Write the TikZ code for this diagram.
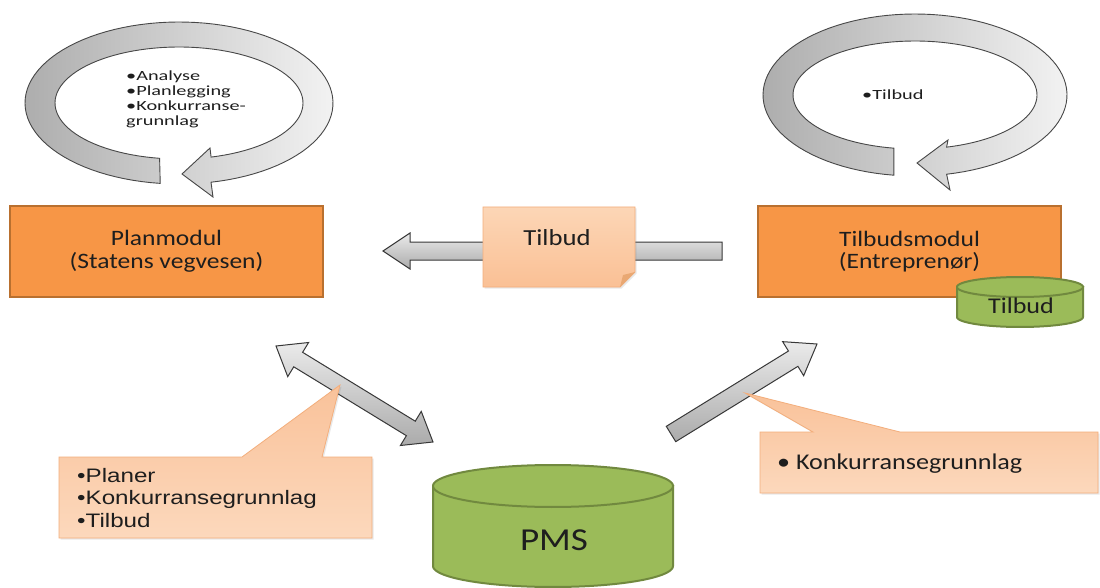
\documentclass[tikz,border=0pt]{standalone}
\usepackage{fontspec}
\usetikzlibrary{calc,shadows}

\newfontfamily\calfont[FakeStretch=1.16]{Carlito}
\newfontfamily\ringfont[FakeStretch=1.45]{Carlito}
\newfontfamily\arifont[FakeStretch=1.24]{Liberation Sans}

\definecolor{modfill}{HTML}{F79646}
\definecolor{modline}{HTML}{B9702F}
\definecolor{cylfill}{HTML}{9BBB59}
\definecolor{cylline}{HTML}{71893F}
\definecolor{calltop}{HTML}{F9C29A}
\definecolor{callbot}{HTML}{FCD8BC}
\definecolor{callline}{HTML}{F3AE7C}
\definecolor{notetop}{HTML}{FCD6B6}
\definecolor{notebot}{HTML}{FAC095}
\definecolor{foldfill}{HTML}{E9A873}
\definecolor{textdark}{HTML}{1E1E1E}

\tikzset{
  modbox/.style={draw=modline, line width=2.2pt, fill=modfill,
    minimum width=313pt, minimum height=91pt, align=center,
    text=textdark, font=\calfont\fontsize{22}{22.5}\selectfont},
  cyl/.style={draw=cylline, line width=2pt, fill=cylfill},
  grayarrow/.style={draw=black!78, line width=1pt, top color=black!8, bottom color=black!33},
  ringarrow/.style={draw=black!72, line width=0.9pt, left color=black!32, right color=black!5},
  callout/.style={draw=callline, line width=0.8pt, top color=calltop, bottom color=callbot,
    drop shadow={opacity=0.18, shadow xshift=1.5pt, shadow yshift=-1.5pt}},
  ringtext/.style={anchor=base west, inner sep=0pt, text=textdark,
    font=\ringfont\fontsize{14}{15}\selectfont},
  calltext/.style={anchor=base west, inner sep=0pt, text=textdark,
    font=\calfont\fontsize{22.5}{20}\selectfont},
  aritext/.style={anchor=base west, inner sep=0pt, text=textdark,
    font=\arifont\fontsize{19.5}{22}\selectfont},
  label/.style={inner sep=0pt, text=textdark, font=\calfont\fontsize{22.5}{20}\selectfont},
}

% block arrow: tail, tip, half shaft width, half head width, head length
\newcommand{\blockarrow}[5]{%
  \path #1 coordinate (ba-t) #2 coordinate (ba-h);
  \path ($(ba-h)!#5!(ba-t)$) coordinate (ba-b);
  \draw[grayarrow] ($(ba-t)!#3!90:(ba-h)$) -- ($(ba-b)!#3!90:(ba-h)$)
    -- ($(ba-b)!#4!90:(ba-h)$) -- (ba-h) -- ($(ba-b)!#4!-90:(ba-h)$)
    -- ($(ba-b)!#3!-90:(ba-h)$) -- ($(ba-t)!#3!-90:(ba-h)$) -- cycle;}

% double-headed block arrow between two tips
\newcommand{\dblockarrow}[5]{%
  \path #1 coordinate (da-a) #2 coordinate (da-c);
  \path ($(da-a)!#5!(da-c)$) coordinate (da-ab) ($(da-c)!#5!(da-a)$) coordinate (da-cb);
  \draw[grayarrow] (da-a) -- ($(da-ab)!#4!90:(da-c)$) -- ($(da-ab)!#3!90:(da-c)$)
    -- ($(da-cb)!#3!-90:(da-a)$) -- ($(da-cb)!#4!-90:(da-a)$) -- (da-c)
    -- ($(da-cb)!#4!90:(da-a)$) -- ($(da-cb)!#3!90:(da-a)$)
    -- ($(da-ab)!#3!-90:(da-c)$) -- ($(da-ab)!#4!-90:(da-c)$) -- cycle;}

\begin{document}
\begin{tikzpicture}[x=1pt,y=-1pt]
\useasboundingbox (0,0) rectangle (1100,588);
\fill[white] (0,0) rectangle (1100,588);

% cycle arrow above the planning module
\draw[ringarrow]
  plot[domain=97:438, samples=100, variable=\t] ({179+154*cos(\t)},{103+81*sin(\t)})
  -- (213,197) -- (182,174) -- (210,148)
  -- plot[domain=435:99, samples=100, variable=\t] ({179+124*cos(\t)},{103+56*sin(\t)})
  -- cycle;
\node[ringtext] (r1) at (126,81) {\textbullet Analyse};
\node[ringtext] (r2) at (126,96) {\textbullet Planlegging};
\node[ringtext] (r3) at (126,111) {\textbullet Konkurranse-};
\node[ringtext] (r4) at (126,126) {grunnlag};

% cycle arrow above the tender module
\draw[ringarrow]
  plot[domain=98:438, samples=100, variable=\t] ({915+152*cos(\t)},{95+81*sin(\t)})
  -- (950,190) -- (917,163) -- (948,140)
  -- plot[domain=435:100, samples=100, variable=\t] ({915+122*cos(\t)},{95+54*sin(\t)})
  -- cycle;
\node[ringtext] (r5) at (862,100) {\textbullet Tilbud};

% modules
\node[modbox] (plan) at (166.5,251.5) {Planmodul\\(Statens vegvesen)};
\node[modbox, minimum width=303pt] (tmod) at (909.5,251.5) {Tilbudsmodul\\(Entrepren\o r)};

% tender store on the tender module
\draw[cyl] (957,287) -- plot[domain=180:0, samples=60, variable=\t] ({1020+63*cos(\t)},{317+10*sin(\t)}) -- (1083,287) -- cycle;
\draw[cyl] plot[domain=0:360, samples=80, variable=\t] ({1020+63*cos(\t)},{287+10*sin(\t)}) -- cycle;
\node[label, anchor=base] (tstore) at (1021,313) {Tilbud};

% PMS database
\draw[cyl] (433,486) -- plot[domain=180:0, samples=80, variable=\t] ({553+120*cos(\t)},{566+21*sin(\t)}) -- (673,486) -- cycle;
\draw[cyl] plot[domain=0:360, samples=100, variable=\t] ({553+120*cos(\t)},{486+21*sin(\t)}) -- cycle;
\node[label, anchor=base, font=\calfont\fontsize{32}{32}\selectfont] (pms) at (554,550) {PMS};

% arrow end points
\coordinate (h-tail) at (722,251);
\coordinate (h-tip) at (383,251);
\coordinate (d-a) at (276,346);
\coordinate (d-b) at (433,442);
\coordinate (s-tail) at (671,434);
\coordinate (s-tip) at (817,344);

% tender from tender module to planning module
\blockarrow{(h-tail)}{(h-tip)}{9pt}{18pt}{27pt}
\draw[draw=callline, line width=0.8pt, top color=notetop, bottom color=notebot,
  drop shadow={opacity=0.18, shadow xshift=1.5pt, shadow yshift=-1.5pt}]
  (483,207) -- (635,207) -- (635,272) -- (620,287) -- (483,287) -- cycle;
\fill[foldfill] (635,272) -- (623,275) -- (620,287) -- cycle;
\node[label, anchor=base, font=\calfont\fontsize{23}{20}\selectfont] (note) at (557,245) {Tilbud};

% exchange between planning module and PMS
\dblockarrow{(d-a)}{(d-b)}{8.5pt}{20pt}{26pt}
% PMS to tender module
\blockarrow{(s-tail)}{(s-tip)}{9pt}{20pt}{28pt}

% callouts
\draw[callout] (59,457) -- (242,457) -- (340,385) -- (322,457) -- (372,457)
  -- (372,538) -- (59,538) -- cycle;
\node[aritext] (c1) at (77,482) {\textbullet Planer};
\node[aritext] (c2) at (77,504) {\textbullet Konkurransegrunnlag};
\node[aritext] (c3) at (77,527) {\textbullet Tilbud};

\draw[callout] (760,432) -- (813,432) -- (745,393) -- (900,432) -- (1098,432)
  -- (1098,493) -- (760,493) -- cycle;
\node[calltext] (c4) at (777,469) {\textbullet\ Konkurransegrunnlag};
\end{tikzpicture}
\end{document}
